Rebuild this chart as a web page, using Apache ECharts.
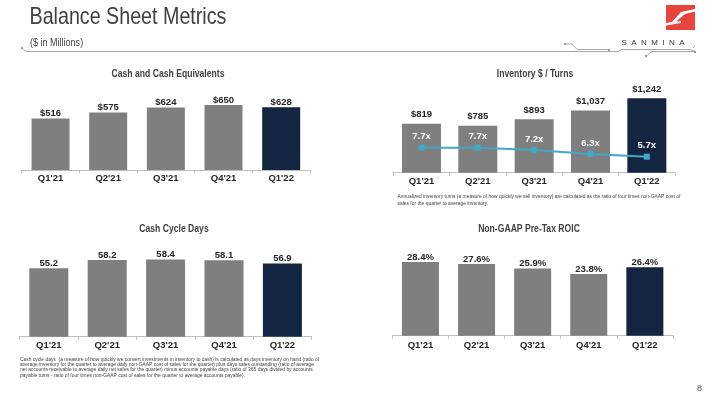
<!DOCTYPE html>
<html><head><meta charset="utf-8">
<script src="https://cdn.jsdelivr.net/npm/echarts@6/dist/echarts.min.js"></script>
<style>html,body{margin:0;padding:0;background:#fff}#c{width:720px;height:405px}</style>
</head><body><div id="c"></div>
<script>
const quarters = ["Q1'21","Q2'21","Q3'21","Q4'21","Q1'22"];
const cashValues = [516, 575, 624, 650, 628];
const inventoryValues = [819, 785, 893, 1037, 1242];
const turnsValues = [7.7, 7.7, 7.2, 6.3, 5.7];
const cashCycleDays = [55.2, 58.2, 58.4, 58.1, 56.9];
const roicValues = [28.4, 27.6, 25.9, 23.8, 26.4];

const SANS = "'Liberation Sans Narrow','Arial Narrow','Liberation Sans',Arial,sans-serif";
const GRAY = '#7f7f7f', NAVY = '#132540', LINE = '#41a8c6', TXT = '#262626';
const NX = 0.82; // horizontal squeeze to imitate a narrow face

function barData(vals){
  return vals.map((v,i)=>({value:v, itemStyle:{color: i===vals.length-1 ? NAVY : GRAY}}));
}
function xAx(gi, margin){
  return {type:'category', gridIndex:gi, data:quarters,
    axisLine:{lineStyle:{color:'#bfbfbf', width:1}},
    axisTick:{show:true, length:3, inside:false, lineStyle:{color:'#bfbfbf'}},
    axisLabel:{color:TXT, fontFamily:SANS, fontWeight:'bold', fontSize:9.5, margin:margin}};
}
function yAx(gi,min,max){
  return {type:'value', gridIndex:gi, min:min, max:max, show:false, splitLine:{show:false}};
}
function lbl(fmt, dist){
  return {show:true, position:'top', distance:dist, color:TXT, fontFamily:SANS, fontWeight:'bold', fontSize:9.5, formatter:fmt};
}
function sqText(x, y, text, font, extra){
  return Object.assign({type:'text', x:x, y:y, scaleX:NX, style:Object.assign({text:text, fill:'#404040', font:font}, extra||{})});
}
function ctrTitle(cx, y, text){
  return {type:'text', x:cx, y:y, scaleX:NX, style:{text:text, fill:'#404040', font:"bold 10.5px "+SANS, align:'center', verticalAlign:'middle'}};
}

const chart = echarts.init(document.getElementById('c'), null, {renderer:'canvas'});
chart.setOption({
  animation:false,
  grid:[
    {left:21.7, top:70, width:288.3, height:100},
    {left:393.3, top:72, width:281.7, height:100.7},
    {left:19.6, top:228, width:292, height:108.7},
    {left:392.4, top:228, width:280.5, height:107.7}
  ],
  xAxis:[xAx(0,3), xAx(1,4), xAx(2,4), xAx(3,5)],
  yAxis:[yAx(0,0,1000), yAx(1,0,1682), yAx(1,2.14,24.52), yAx(2,30,70), yAx(3,0,41.5)],
  series:[
    {type:'bar', xAxisIndex:0, yAxisIndex:0, data:barData(cashValues), barWidth:38,
      label:lbl(p=>'$'+p.value, 0)},
    {type:'bar', xAxisIndex:1, yAxisIndex:1, data:barData(inventoryValues), barWidth:39,
      label:lbl(p=>'$'+p.value.toLocaleString('en-US'), 4)},
    {type:'line', xAxisIndex:1, yAxisIndex:2, data:turnsValues, symbol:'rect', symbolSize:6,
      lineStyle:{color:LINE, width:2}, itemStyle:{color:LINE},
      label:{show:true, position:'top', distance:3, color:'#fff', fontFamily:SANS, fontWeight:'bold', fontSize:9.5,
        formatter:p=>p.value.toFixed(1)+'x'}},
    {type:'bar', xAxisIndex:2, yAxisIndex:3, data:barData(cashCycleDays), barWidth:39,
      label:lbl(p=>p.value.toFixed(1), 0)},
    {type:'bar', xAxisIndex:3, yAxisIndex:4, data:barData(roicValues), barWidth:37,
      label:lbl(p=>p.value.toFixed(1)+'%', 0)}
  ],
  graphic:[
    sqText(29.5, 5, 'Balance Sheet Metrics', "24px "+SANS),
    sqText(30, 37, '($ in Millions)', "11px "+SANS),
    ctrTitle(168, 74.5, 'Cash and Cash Equivalents'),
    ctrTitle(535, 74.5, 'Inventory $ / Turns'),
    ctrTitle(174, 229, 'Cash Cycle Days'),
    ctrTitle(529, 229, 'Non-GAAP Pre-Tax ROIC'),
    {type:'polyline', shape:{points:[[22,48],[26,51.5],[610,51.5]]}, style:{stroke:'#a6a6a6', lineWidth:1, fill:null}},
    {type:'polyline', shape:{points:[[565,44],[572,44],[577,49.5],[609,49.5]]}, style:{stroke:'#a6a6a6', lineWidth:1, fill:null}},
    {type:'polyline', shape:{points:[[610,51.5],[619,51.5],[621,49.5],[690,49.5],[695,51.5]]}, style:{stroke:'#a6a6a6', lineWidth:1, fill:null}},
    {type:'polyline', shape:{points:[[646,56],[652,51.5],[695,51.5]]}, style:{stroke:'#a6a6a6', lineWidth:1, fill:null}},
    {type:'polyline', shape:{points:[[693,48],[695,46]]}, style:{stroke:'#a6a6a6', lineWidth:1, fill:null}},
    {type:'circle', shape:{cx:565, cy:44, r:1}, style:{fill:'#808080'}},
    {type:'circle', shape:{cx:609, cy:50, r:1}, style:{fill:'#808080'}},
    {type:'circle', shape:{cx:646, cy:56, r:1}, style:{fill:'#808080'}},
    {type:'circle', shape:{cx:695, cy:52, r:1}, style:{fill:'#808080'}},
    {type:'circle', shape:{cx:22, cy:48, r:0.9}, style:{fill:'#808080'}},
    {type:'rect', shape:{x:666, y:5, width:29, height:25}, style:{fill:'#e8443e'}},
    {type:'polygon', shape:{points:[[681,12],[695,9],[695,11.5],[685,14],[676,21.5],[681,21],[681,23],[666,25.5],[666,23],[672,22]]}, style:{fill:'#fff'}},
    {type:'text', x:621.5, y:39, style:{text:'S  A  N  M  I  N  A', fill:'#333333', font:"8px 'Liberation Sans',Arial,sans-serif"}},
    sqText(397.5, 192.5, 'Annualized inventory turns (a measure of how quickly we sell inventory) are calculated as the ratio of four times non-GAAP cost of\nsales for the quarter to average inventory.', "6px "+SANS, {lineHeight:7.3}),
    sqText(20, 356.3, 'Cash cycle days  (a measure of how quickly we convert investments in inventory to cash) is calculated as days inventory on hand (ratio of\naverage inventory for the quarter to average daily non-GAAP cost of sales for the quarter) plus days sales outstanding (ratio of average\nnet accounts receivable to average daily net sales for the quarter) minus accounts payable days (ratio of 365 days divided by accounts\npayable turns - ratio of four times non-GAAP cost of sales for the quarter to average accounts payable).', "6px "+SANS, {lineHeight:5.4}),
    {type:'text', x:697, y:384, style:{text:'8', fill:'#595959', font:"9px 'Liberation Sans',Arial,sans-serif"}}
  ]
});
</script></body></html>
